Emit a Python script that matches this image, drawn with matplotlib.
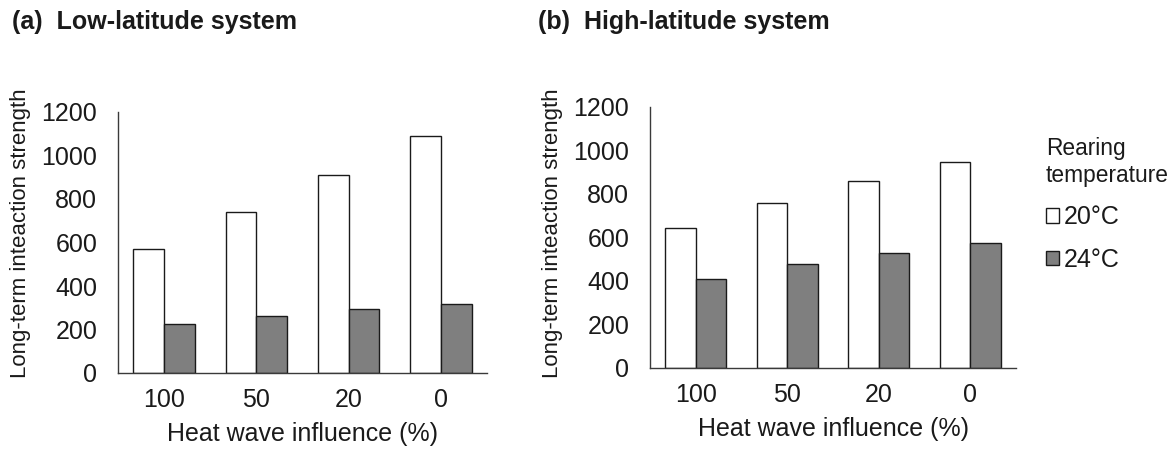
import matplotlib
matplotlib.use("Agg")
import matplotlib.pyplot as plt
from matplotlib.patches import Patch
import numpy as np

plt.rcParams['font.family'] = ['Liberation Sans', 'DejaVu Sans']

categories = ["100", "50", "20", "0"]
low_20C = [570, 742, 910, 1090]
low_24C = [225, 262, 296, 319]
high_20C = [644, 759, 858, 946]
high_24C = [406, 475, 527, 573]
yticks = [0, 200, 400, 600, 800, 1000, 1200]

W, H = 1176, 449
fig = plt.figure(figsize=(W / 100, H / 100), dpi=100)

def px_axes(x0, x1, ytop, ybot):
    return fig.add_axes([x0 / W, (H - ybot) / H, (x1 - x0) / W, (ybot - ytop) / H])

ax1 = px_axes(118, 487, 112, 373)
ax2 = px_axes(650, 1016, 106.7, 367.7)

bw = 0.332
gray = "#7f7f7f"
spine_c = "#3a3a3a"
txt = "#1a1a1a"
for ax, w, g, ylab_pos in [(ax1, low_20C, low_24C, (-0.236, 0.534)),
                           (ax2, high_20C, high_24C, (-0.238, 0.514))]:
    x = np.arange(len(categories))
    ax.bar(x - bw / 2, w, width=bw, color="white", edgecolor=txt, linewidth=1.0)
    ax.bar(x + bw / 2, g, width=bw, color=gray, edgecolor=txt, linewidth=1.0)
    ax.set_xlim(-0.5, len(categories) - 0.5)
    ax.set_ylim(0, 1200)
    ax.set_yticks(yticks)
    ax.set_xticks(x)
    ax.set_xticklabels(categories)
    ax.tick_params(length=0, labelsize=18, colors=txt)
    ax.tick_params(axis='y', pad=15)
    ax.tick_params(axis='x', pad=11)
    for s in ["top", "right"]:
        ax.spines[s].set_visible(False)
    for s in ["left", "bottom"]:
        ax.spines[s].set_color(spine_c)
        ax.spines[s].set_linewidth(1.0)
    ax.set_xlabel("Heat wave influence (%)", fontsize=18, color=txt, labelpad=7)
    ax.set_ylabel("Long-term inteaction strength", fontsize=16, color=txt)
    ax.yaxis.set_label_coords(*ylab_pos)

fig.text(12 / W, 1 - 22 / H, "(a)  Low-latitude system", fontsize=18, fontweight="bold",
         va="center", ha="left", color=txt)
fig.text(538 / W, 1 - 22 / H, "(b)  High-latitude system", fontsize=18, fontweight="bold",
         va="center", ha="left", color=txt)

handles = [Patch(facecolor="white", edgecolor=txt, linewidth=1.0),
           Patch(facecolor=gray, edgecolor=txt, linewidth=1.0)]
leg = fig.legend(handles, ["20°C", "24°C"], title="Rearing\ntemperature",
                 loc="upper left", bbox_to_anchor=(1046 / W, 1 - 137 / H),
                 frameon=False, fontsize=18, title_fontsize=16.4,
                 handlelength=0.5, handleheight=0.5, handletextpad=0.2,
                 labelspacing=0.75, borderaxespad=0, borderpad=0,
                 alignment="left")
for t in leg.get_texts():
    t.set_color(txt)
leg.get_title().set_color(txt)

fig.savefig("out.png", dpi=100)
